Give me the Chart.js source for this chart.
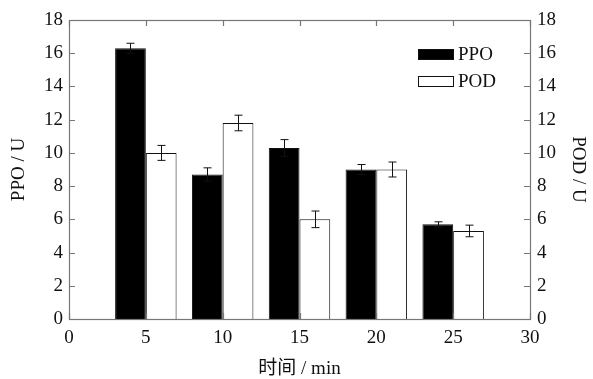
<!DOCTYPE html>
<html>
<head>
<meta charset="utf-8">
<script src="https://cdn.jsdelivr.net/npm/chart.js@4"></script>
<style>
  html, body { margin: 0; padding: 0; background: #fff; }
  #wrap { width: 593px; height: 379px; }
</style>
</head>
<body>
<div id="wrap"><canvas id="enzymeChart" width="593" height="379"></canvas></div>
<script>
'use strict';

const times = [5, 10, 15, 20, 25];
const ppoValues = [16.3, 8.7, 10.3, 9.0, 5.7];
const ppoErrors = [0.3, 0.4, 0.5, 0.3, 0.15];
const podValues = [10.0, 11.8, 6.0, 9.0, 5.3];
const podErrors = [0.45, 0.47, 0.5, 0.45, 0.35];
const xTicks = [0, 5, 10, 15, 20, 25, 30];
const yTicks = [0, 2, 4, 6, 8, 10, 12, 14, 16, 18];

const serif = "'Liberation Serif', 'Times New Roman', 'Noto Sans CJK SC', serif";
const axisColor = '#777';
const inkColor = '#111';

const toPoints = (vals) => vals.map((v, i) => ({ x: times[i], y: v }));

// error bars, read from the dataset's errors array
const errorBarPlugin = {
  id: 'errorBars',
  afterDatasetsDraw(chart) {
    const ctx = chart.ctx;
    const yScale = chart.scales.y;
    ctx.save();
    ctx.strokeStyle = inkColor;
    ctx.lineWidth = 1;
    chart.data.datasets.forEach((ds, di) => {
      const meta = chart.getDatasetMeta(di);
      meta.data.forEach((bar, i) => {
        const v = ds.data[i].y;
        const e = ds.errors[i];
        const x = Math.round(bar.x) + 0.5;
        const yTop = yScale.getPixelForValue(v + e);
        const yBot = yScale.getPixelForValue(v - e);
        ctx.beginPath();
        ctx.moveTo(x, yTop);
        ctx.lineTo(x, yBot);
        ctx.moveTo(x - 4, yTop);
        ctx.lineTo(x + 4, yTop);
        ctx.moveTo(x - 4, yBot);
        ctx.lineTo(x + 4, yBot);
        ctx.stroke();
      });
    });
    ctx.restore();
  }
};

// frame with inward ticks on all four sides
const framePlugin = {
  id: 'frame',
  afterDraw(chart) {
    const { ctx, chartArea: a, scales } = chart;
    const tick = 6;
    ctx.save();
    ctx.strokeStyle = axisColor;
    ctx.lineWidth = 1.2;
    ctx.strokeRect(a.left + 0.5, a.top + 0.5, a.right - a.left, a.bottom - a.top);
    ctx.beginPath();
    xTicks.forEach((t) => {
      const x = Math.round(scales.x.getPixelForValue(t)) + 0.5;
      ctx.moveTo(x, a.top);
      ctx.lineTo(x, a.top + tick);
      ctx.moveTo(x, a.bottom);
      ctx.lineTo(x, a.bottom - tick);
    });
    yTicks.forEach((t) => {
      const y = Math.round(scales.y.getPixelForValue(t)) + 0.5;
      ctx.moveTo(a.left, y);
      ctx.lineTo(a.left + tick, y);
      ctx.moveTo(a.right, y);
      ctx.lineTo(a.right - tick, y);
    });
    ctx.stroke();
    ctx.restore();
  }
};

// legend in the upper right of the plot
const boxLegendPlugin = {
  id: 'boxLegend',
  afterDraw(chart) {
    const { ctx, chartArea: a } = chart;
    const bx = a.right - 112;
    ctx.save();
    ctx.font = '19px ' + serif;
    ctx.textBaseline = 'middle';
    chart.data.datasets.forEach((ds, i) => {
      const by = a.top + 29 + i * 27;
      ctx.fillStyle = ds.backgroundColor;
      ctx.fillRect(bx, by, 36, 11);
      ctx.strokeStyle = inkColor;
      ctx.lineWidth = 1;
      ctx.strokeRect(bx + 0.5, by + 0.5, 35, 10);
      ctx.fillStyle = inkColor;
      ctx.fillText(ds.label, bx + 40, by + 6);
    });
    ctx.restore();
  }
};

const ctx = document.getElementById('enzymeChart').getContext('2d');

const chart = new Chart(ctx, {
  type: 'bar',
  data: {
    datasets: [
      {
        label: 'PPO',
        data: toPoints(ppoValues),
        errors: ppoErrors,
        backgroundColor: '#000',
        borderColor: inkColor,
        borderWidth: 1
      },
      {
        label: 'POD',
        data: toPoints(podValues),
        errors: podErrors,
        backgroundColor: '#fff',
        borderColor: inkColor,
        borderWidth: 1
      }
    ]
  },
  options: {
    responsive: false,
    animation: false,
    categoryPercentage: 0.8,
    barPercentage: 1.0,
    layout: { padding: { top: 20, left: 0, right: 0, bottom: 0 } },
    plugins: {
      legend: { display: false },
      tooltip: { enabled: false }
    },
    scales: {
      x: {
        type: 'linear',
        min: 0,
        max: 30,
        offset: false,
        grid: { display: false, drawTicks: false },
        border: { display: false },
        afterBuildTicks: (scale) => { scale.ticks = xTicks.map((v) => ({ value: v })); },
        afterFit: (scale) => { scale.height = 60; },
        ticks: {
          padding: 8,
          color: inkColor,
          font: { family: serif, size: 19 },
          maxRotation: 0,
          autoSkip: false
        },
        title: {
          display: true,
          text: '时间 / min',
          color: inkColor,
          font: { family: serif, size: 19, lineHeight: 1 },
          padding: { top: 0, bottom: 0 }
        }
      },
      y: {
        position: 'left',
        min: 0,
        max: 18,
        grid: { display: false, drawTicks: false },
        border: { display: false },
        afterBuildTicks: (scale) => { scale.ticks = yTicks.map((v) => ({ value: v })); },
        afterFit: (scale) => { scale.width = 69; },
        ticks: {
          padding: 6,
          color: inkColor,
          font: { family: serif, size: 19 }
        },
        title: {
          display: true,
          text: 'PPO / U',
          color: inkColor,
          font: { family: serif, size: 19, lineHeight: 1 },
          padding: { top: 10, bottom: 0 }
        }
      },
      y2: {
        position: 'right',
        min: 0,
        max: 18,
        grid: { display: false, drawTicks: false },
        border: { display: false },
        afterBuildTicks: (scale) => { scale.ticks = yTicks.map((v) => ({ value: v })); },
        afterFit: (scale) => { scale.width = 63; },
        ticks: {
          padding: 7,
          color: inkColor,
          font: { family: serif, size: 19 }
        },
        title: {
          display: true,
          text: 'POD / U',
          color: inkColor,
          font: { family: serif, size: 19, lineHeight: 1 },
          padding: { top: 6, bottom: 0 }
        }
      }
    }
  },
  plugins: [errorBarPlugin, framePlugin, boxLegendPlugin]
});
</script>
</body>
</html>
